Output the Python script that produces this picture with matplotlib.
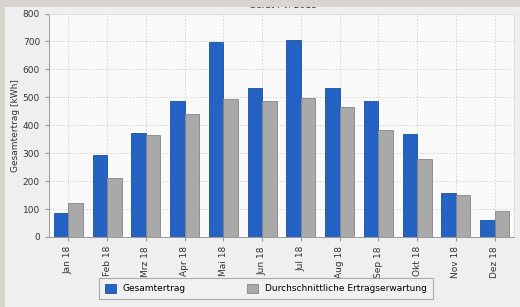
import matplotlib
matplotlib.use("Agg")
import matplotlib.pyplot as plt
from matplotlib.patches import Rectangle
import numpy as np

months = ["Jan 18", "Feb 18", "Mrz 18", "Apr 18", "Mai 18", "Jun 18",
          "Jul 18", "Aug 18", "Sep 18", "Okt 18", "Nov 18", "Dez 18"]
gesamtertrag = [87, 293, 372, 487, 697, 533, 705, 533, 487, 370, 158, 62]
erwartung = [123, 211, 366, 440, 495, 487, 497, 466, 383, 280, 152, 93]
series_names = ["Gesamtertrag", "Durchschnittliche Ertragserwartung"]
title = "Gerät PV: 2018"
ylabel = "Gesamtertrag [kWh]"
yticks = [0, 100, 200, 300, 400, 500, 600, 700, 800]

fig = plt.figure(figsize=(5.2, 3.07), dpi=100)
fig.patch.set_facecolor("#efefef")

ax = fig.add_axes([49/520, 1-237/307, (514-49)/520, (237-13.5)/307])
ax.set_facecolor("#fafafa")

x = np.arange(len(months))
w = 0.375
b1 = ax.bar(x - w/2, gesamtertrag, w, color="#2462c4", edgecolor="#1b4f9e",
            linewidth=0.6, label=series_names[0], zorder=3)
b2 = ax.bar(x + w/2, erwartung, w, color="#a9a9a9", edgecolor="#858585",
            linewidth=0.6, label=series_names[1], zorder=3)

ax.set_xlim(-0.5, len(months) - 0.5)
ax.set_ylim(0, 800)
ax.set_yticks(yticks)
ax.set_xticks(x)
ax.set_xticklabels(months, rotation=90, fontsize=6.5, color="#333333")
ax.tick_params(axis="y", labelsize=6.5, labelcolor="#333333", length=3, color="#999999")
ax.tick_params(axis="x", length=3, color="#999999")
ax.grid(True, linestyle=(0, (2, 2)), color="#cfcfcf", linewidth=0.6, zorder=0)
for s in ["top", "right"]:
    ax.spines[s].set_color("#dddddd")
    ax.spines[s].set_linewidth(0.6)
for s in ["left", "bottom"]:
    ax.spines[s].set_color("#9a9a9a")
    ax.spines[s].set_linewidth(0.7)
ax.set_ylabel(ylabel, fontsize=6.5, color="#333333", labelpad=2)

leg = fig.legend(handles=[b1, b2], labels=series_names, loc="center",
                 bbox_to_anchor=(266/520, 1-288.5/307), ncol=2, fontsize=6.5,
                 handlelength=1.2, handleheight=1.2, columnspacing=6.8,
                 frameon=True, fancybox=False, borderpad=0.6)
leg.get_frame().set_edgecolor("#9a9a9a")
leg.get_frame().set_facecolor("#f2f2f2")
leg.get_frame().set_linewidth(0.8)

fig.text(283/520, 1-5/307, title, ha="center", va="center", fontsize=6.5,
         color="#333333", zorder=1)
fig.patches.append(Rectangle((0, 1-7/307), 1, 7/307, transform=fig.transFigure,
                             facecolor="#d8d5d0", edgecolor="none", zorder=10))
fig.patches.append(Rectangle((0, 0), 5/520, 1, transform=fig.transFigure,
                             facecolor="#d8d5d0", edgecolor="none", zorder=10))

fig.savefig("out.png", dpi=100, facecolor=fig.get_facecolor())
